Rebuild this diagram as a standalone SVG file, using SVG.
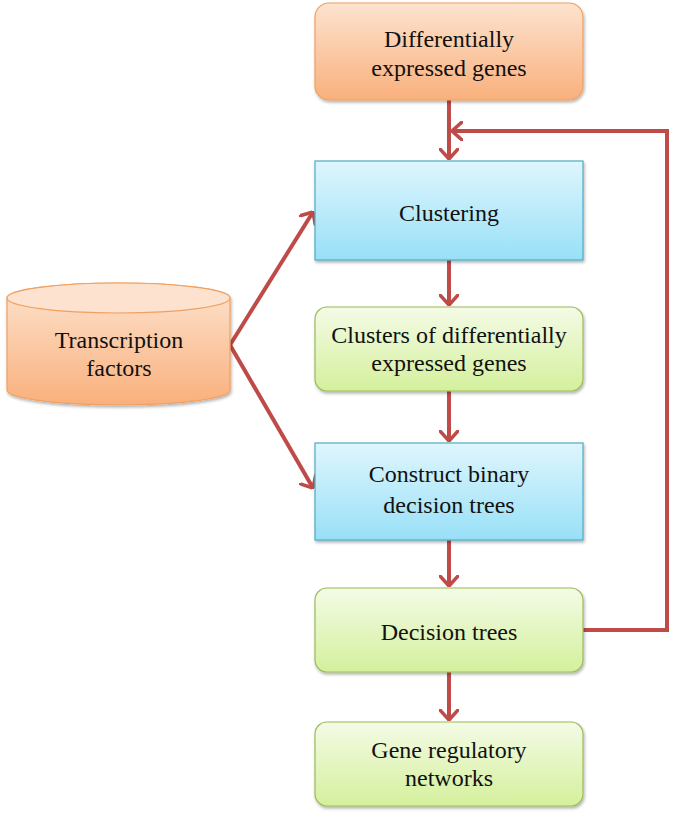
<svg xmlns="http://www.w3.org/2000/svg" width="676" height="817" viewBox="0 0 676 817">
<defs>
<linearGradient id="gOrange" x1="0" y1="0" x2="0" y2="1"><stop offset="0" stop-color="#fde3cf"/><stop offset="1" stop-color="#f9b07c"/></linearGradient>
<linearGradient id="gBlue" x1="0" y1="0" x2="0" y2="1"><stop offset="0" stop-color="#dff6fd"/><stop offset="1" stop-color="#98e0f7"/></linearGradient>
<linearGradient id="gGreen" x1="0" y1="0" x2="0" y2="1"><stop offset="0" stop-color="#f4fbe6"/><stop offset="1" stop-color="#d4f09c"/></linearGradient>
<filter id="sh" x="-10%" y="-10%" width="120%" height="130%"><feDropShadow dx="1" dy="2" stdDeviation="1.5" flood-color="#000" flood-opacity="0.3"/></filter>
<marker id="ah" viewBox="0 0 12 20" refX="11" refY="10" markerWidth="12" markerHeight="20" markerUnits="userSpaceOnUse" orient="auto"><path d="M1,1 L11,10 L1,19" fill="none" stroke="#be4b48" stroke-width="3.5" stroke-linecap="round" stroke-linejoin="round"/></marker>
</defs>
<style>
text{font-family:"Liberation Serif","Times New Roman",serif;font-size:24px;fill:#111;text-anchor:middle}
.or{fill:url(#gOrange);stroke:#f0a060;stroke-width:1.2;filter:url(#sh)}
.bl{fill:url(#gBlue);stroke:#4bacc6;stroke-width:1.2;filter:url(#sh)}
.gr{fill:url(#gGreen);stroke:#9bbb59;stroke-width:1.2;filter:url(#sh)}
.c{fill:none;stroke:#be4b48;stroke-width:4;marker-end:url(#ah)}
</style>
<g id="connectors">
<line class="c" x1="449" y1="100" x2="449" y2="159"/>
<polyline class="c" points="583,630 667,630 667,131 452,131"/>
<line class="c" x1="230" y1="345" x2="313" y2="212"/>
<line class="c" x1="230" y1="345" x2="313" y2="488"/>
<line class="c" x1="449" y1="260" x2="449" y2="305"/>
<line class="c" x1="449" y1="391" x2="449" y2="441"/>
<line class="c" x1="449" y1="540" x2="449" y2="586"/>
<line class="c" x1="449" y1="672" x2="449" y2="720"/>
</g>
<g id="deg">
<rect class="or" x="315" y="3" width="268" height="97" rx="14"/>
<text x="449" y="47">Differentially</text>
<text x="449" y="76">expressed genes</text>
</g>
<g id="clustering">
<rect class="bl" x="315" y="161" width="268" height="99"/>
<text x="449" y="221">Clustering</text>
</g>
<g id="tf">
<path class="or" d="M7,298 L7,390 A111.5,15 0 0 0 230,390 L230,298 A111.5,15 0 0 0 7,298 Z"/>
<ellipse cx="118.5" cy="298" rx="111.5" ry="15" fill="#fde3cf" stroke="#f0a060" stroke-width="1.2"/>
<text x="119" y="348">Transcription</text>
<text x="119" y="376">factors</text>
</g>
<g id="clusters">
<rect class="gr" x="315" y="307" width="268" height="84" rx="12"/>
<text x="449" y="343">Clusters of differentially</text>
<text x="449" y="371">expressed genes</text>
</g>
<g id="construct">
<rect class="bl" x="315" y="443" width="268" height="97"/>
<text x="449" y="482">Construct binary</text>
<text x="449" y="513">decision trees</text>
</g>
<g id="dt">
<rect class="gr" x="315" y="588" width="268" height="84" rx="12"/>
<text x="449" y="640">Decision trees</text>
</g>
<g id="grn">
<rect class="gr" x="315" y="722" width="268" height="84" rx="12"/>
<text x="449" y="758">Gene regulatory</text>
<text x="449" y="786">networks</text>
</g>
</svg>
